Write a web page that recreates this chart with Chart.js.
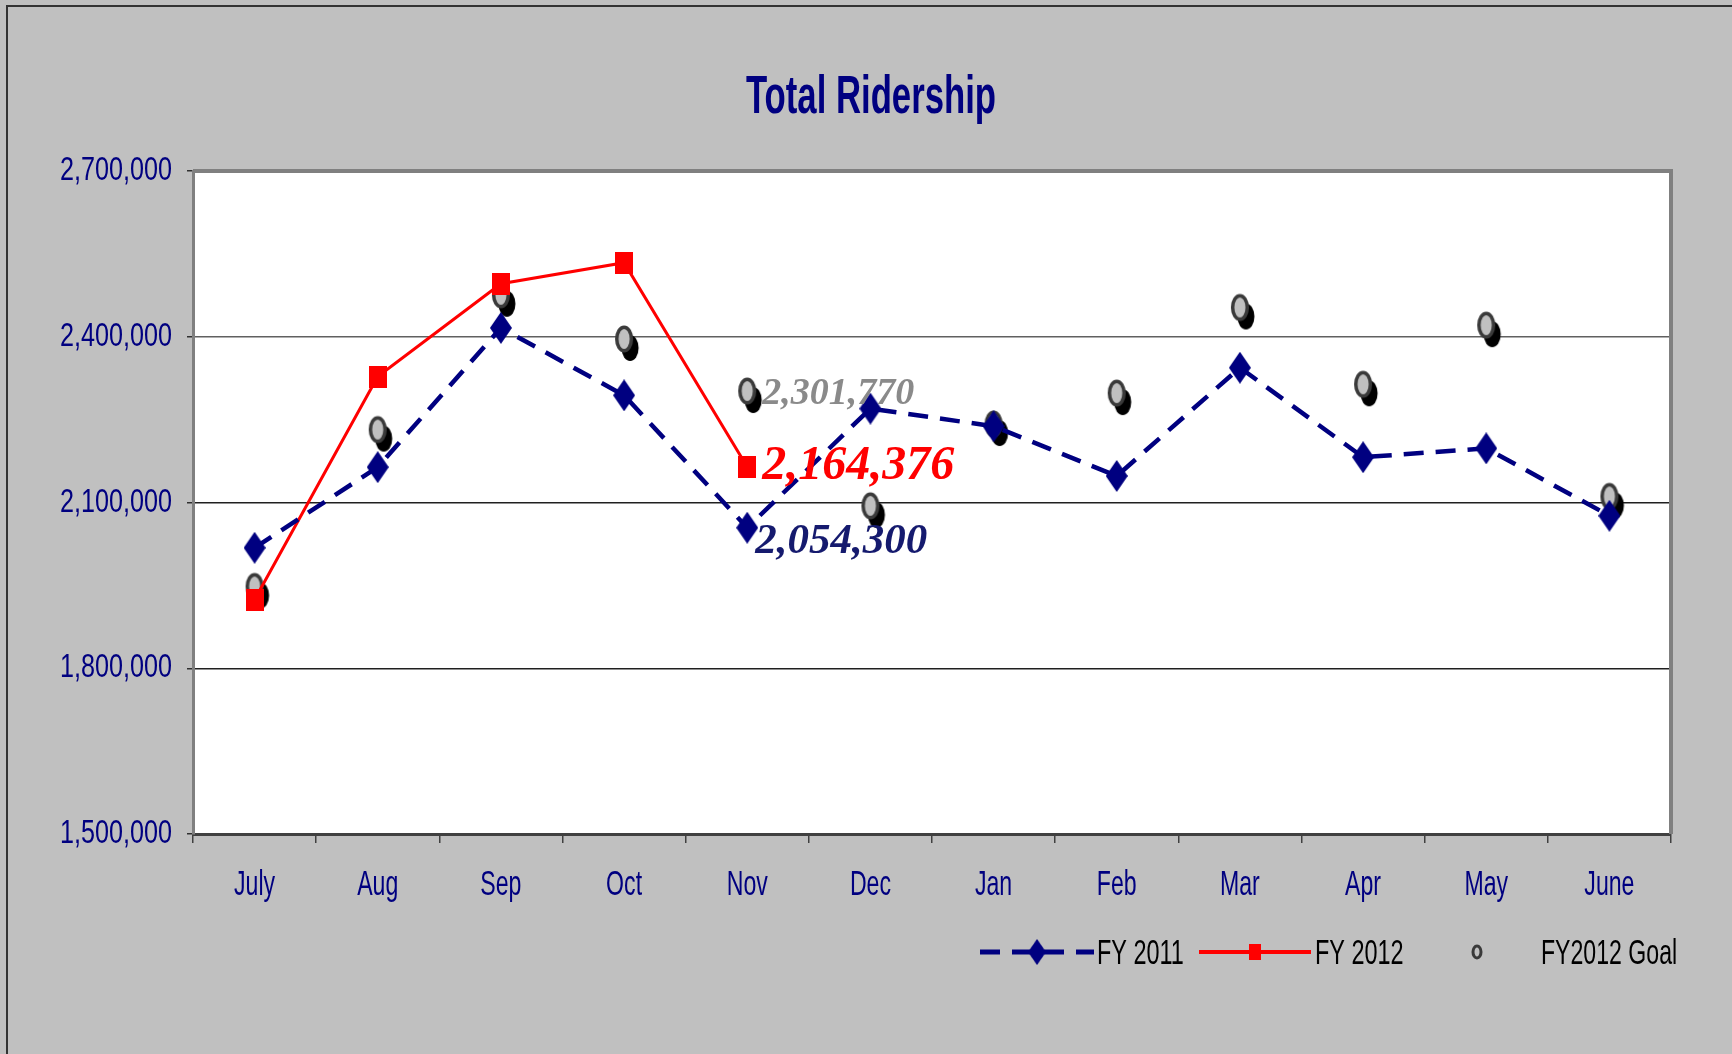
<!DOCTYPE html>
<html>
<head>
<meta charset="utf-8">
<script src="https://cdn.jsdelivr.net/npm/chart.js@4.4.1/dist/chart.umd.min.js"></script>
<style>
    html, body { margin: 0; padding: 0; background: #c0c0c0; }
    #wrap { width: 1732px; height: 1054px; position: relative; }
</style>
</head>
<body>
<div id="wrap"><canvas id="ridershipChart"></canvas></div>
<script>
// Monthly ridership values
const months = ['July', 'Aug', 'Sep', 'Oct', 'Nov', 'Dec', 'Jan', 'Feb', 'Mar', 'Apr', 'May', 'June'];
const fy2011 = [2018000, 2164000, 2416000, 2294000, 2054300, 2270000, 2238000, 2148000, 2344000, 2182000, 2198000, 2076000];
const fy2012 = [1924000, 2328000, 2496000, 2534000, 2164376, null, null, null, null, null, null, null];
const fy2012Goal = [1948000, 2232000, 2476000, 2396000, 2301770, 2094000, 2242000, 2298000, 2453000, 2314000, 2421000, 2111000];
const yTicks = [1500000, 1800000, 2100000, 2400000, 2700000];

const NAVY = '#000080';
const SANS = "'Liberation Sans', Arial, sans-serif";
const SERIF = "'Liberation Serif', 'Times New Roman', serif";

// no narrow font installed, so squeeze text horizontally
function narrowText(ctx, text, x, y, font, sx, align, baseline) {
    ctx.save();
    ctx.font = font;
    ctx.translate(x, y);
    ctx.scale(sx, 1);
    ctx.textAlign = align;
    ctx.textBaseline = baseline || 'alphabetic';
    ctx.fillText(text, 0, 0);
    ctx.restore();
}

// marker images
function makeDiamond() {
    const c = document.createElement('canvas');
    c.width = 22; c.height = 32;
    const g = c.getContext('2d');
    g.fillStyle = NAVY;
    g.beginPath();
    g.moveTo(11, 0); g.lineTo(22, 16); g.lineTo(11, 32); g.lineTo(0, 16);
    g.closePath();
    g.fill();
    return c;
}

function makeSquare() {
    const c = document.createElement('canvas');
    c.width = 18; c.height = 22;
    const g = c.getContext('2d');
    g.fillStyle = '#ff0000';
    g.fillRect(0, 0, 18, 22);
    return c;
}

function makeGoal() {
    const c = document.createElement('canvas');
    c.width = 34; c.height = 48;
    const g = c.getContext('2d');
    g.fillStyle = '#000';
    g.beginPath();
    g.ellipse(23, 33, 8.5, 13, 0, 0, Math.PI * 2);
    g.fill();
    g.fillStyle = '#c0c0c0';
    g.strokeStyle = '#3a3a3a';
    g.lineWidth = 3.5;
    g.beginPath();
    g.ellipse(17, 24, 7.3, 11.8, 0, 0, Math.PI * 2);
    g.fill();
    g.stroke();
    return c;
}

function makeGoalSmall() {
    const c = document.createElement('canvas');
    c.width = 14; c.height = 18;
    const g = c.getContext('2d');
    g.fillStyle = '#c0c0c0';
    g.strokeStyle = '#3a3a3a';
    g.lineWidth = 3;
    g.beginPath();
    g.ellipse(7, 9, 4, 6, 0, 0, Math.PI * 2);
    g.fill();
    g.stroke();
    return c;
}

const diamondImg = makeDiamond();
const squareImg = makeSquare();
const goalImg = makeGoal();
const goalSmallImg = makeGoalSmall();

// background, frame, plot border, labels, legend
const framePlugin = {
    id: 'frame',
    beforeDraw(chart) {
        const ctx = chart.ctx;
        ctx.save();
        ctx.fillStyle = '#c0c0c0';
        ctx.fillRect(0, 0, chart.width, chart.height);
        ctx.strokeStyle = '#333';
        ctx.lineWidth = 2;
        ctx.beginPath();
        ctx.moveTo(7, chart.height);
        ctx.lineTo(7, 6);
        ctx.lineTo(chart.width, 6);
        ctx.stroke();
        const a = chart.chartArea;
        ctx.fillStyle = '#ffffff';
        ctx.fillRect(a.left, a.top, a.right - a.left, a.bottom - a.top);
        ctx.restore();
    },
    afterDatasetsDraw(chart) {
        const ctx = chart.ctx;
        const a = chart.chartArea;
        ctx.save();
        ctx.strokeStyle = '#808080';
        ctx.lineWidth = 4;
        ctx.beginPath();
        ctx.moveTo(a.left, a.top);
        ctx.lineTo(a.right, a.top);
        ctx.lineTo(a.right, a.bottom);
        ctx.stroke();

        // Nov value labels
        const idx = 4;
        const labels = [
            { ds: 2, text: fy2012Goal[idx].toLocaleString('en-US'), color: '#8a8a8a', size: 38, dx: 15, dy: 3 },
            { ds: 1, text: fy2012[idx].toLocaleString('en-US'), color: '#ff0000', size: 48, dx: 15, dy: 0 },
            { ds: 0, text: fy2011[idx].toLocaleString('en-US'), color: '#151a6e', size: 43, dx: 8, dy: 14 }
        ];
        labels.forEach(l => {
            const pt = chart.getDatasetMeta(l.ds).data[idx];
            ctx.font = `italic bold ${l.size}px ${SERIF}`;
            ctx.fillStyle = l.color;
            ctx.textAlign = 'left';
            ctx.textBaseline = 'middle';
            ctx.fillText(l.text, pt.x + l.dx, pt.y + l.dy);
        });
        ctx.restore();
    },
    afterDraw(chart) {
        const ctx = chart.ctx;
        const a = chart.chartArea;
        ctx.save();

        // title
        ctx.fillStyle = NAVY;
        narrowText(ctx, 'Total Ridership', 871, 113, `bold 53px ${SANS}`, 0.655, 'center');

        // axis labels from the scales
        const ys = chart.scales.y;
        ys.ticks.forEach(t => {
            narrowText(ctx, t.value.toLocaleString('en-US'), a.left - 21, ys.getPixelForValue(t.value) + 9,
                `33px ${SANS}`, 0.763, 'right');
        });
        const xs = chart.scales.x;
        xs.ticks.forEach((t, i) => {
            narrowText(ctx, xs.getLabelForValue(t.value), xs.getPixelForTick(i), a.bottom + 61,
                `35px ${SANS}`, 0.66, 'center');
        });

        // legend
        const y = 952;
        ctx.strokeStyle = NAVY;
        ctx.lineWidth = 5;
        ctx.setLineDash([20, 12]);
        ctx.beginPath();
        ctx.moveTo(980, y); ctx.lineTo(1094, y);
        ctx.stroke();
        ctx.setLineDash([]);
        ctx.drawImage(diamondImg, 1037 - 9, y - 13, 18, 26);

        ctx.strokeStyle = '#ff0000';
        ctx.lineWidth = 4;
        ctx.beginPath();
        ctx.moveTo(1199, y); ctx.lineTo(1311, y);
        ctx.stroke();
        ctx.drawImage(squareImg, 1255 - 6, y - 8, 12, 16);

        ctx.drawImage(goalSmallImg, 1477 - 7, y - 9);

        ctx.fillStyle = '#000';
        narrowText(ctx, 'FY 2011', 1097, y + 12, `35px ${SANS}`, 0.67, 'left');
        narrowText(ctx, 'FY 2012', 1315, y + 12, `35px ${SANS}`, 0.67, 'left');
        narrowText(ctx, 'FY2012 Goal', 1541, y + 12, `35px ${SANS}`, 0.66, 'left');
        ctx.restore();
    }
};

const ctx = document.getElementById('ridershipChart').getContext('2d');
new Chart(ctx, {
    type: 'line',
    data: {
        labels: months,
        datasets: [
            {
                label: 'FY 2011',
                data: fy2011,
                borderColor: NAVY,
                borderWidth: 4.5,
                borderDash: [20, 12],
                pointStyle: diamondImg,
                tension: 0
            },
            {
                label: 'FY 2012',
                data: fy2012,
                borderColor: '#ff0000',
                borderWidth: 3,
                pointStyle: squareImg,
                spanGaps: false,
                tension: 0
            },
            {
                label: 'FY2012 Goal',
                data: fy2012Goal,
                showLine: false,
                pointStyle: goalImg
            }
        ]
    },
    options: {
        responsive: true,
        maintainAspectRatio: false,
        animation: false,
        layout: { padding: { left: 0, right: 61, top: 171, bottom: 0 } },
        plugins: {
            legend: { display: false },
            tooltip: { enabled: false },
            title: { display: false }
        },
        scales: {
            x: {
                offset: true,
                grid: { offset: true, drawOnChartArea: false, tickLength: 9, color: '#404040', lineWidth: 1.5 },
                border: { color: '#404040', width: 3 },
                ticks: { display: false },
                afterFit(scale) { scale.height = 220; }
            },
            y: {
                min: 1500000,
                max: 2700000,
                afterBuildTicks(scale) { scale.ticks = yTicks.map(v => ({ value: v })); },
                grid: {
                    tickLength: 6,
                    color: c => {
                        if (!c.tick) return '#303030';
                        if (c.tick.value === 2700000) return 'rgba(0,0,0,0)';
                        return c.tick.value === 2400000 ? '#606060' : '#202020';
                    },
                    tickColor: '#303030',
                    lineWidth: 1.5
                },
                border: { color: '#808080', width: 3 },
                ticks: { display: false },
                afterFit(scale) { scale.width = 193; }
            }
        }
    },
    plugins: [framePlugin]
});
</script>
</body>
</html>
